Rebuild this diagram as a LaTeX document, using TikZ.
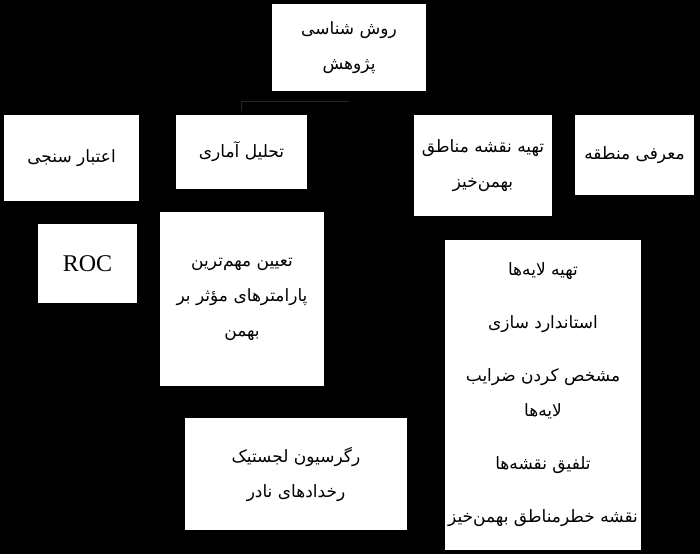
\documentclass[tikz,border=0pt]{standalone}
\usepackage{fontspec}
\setmainfont{Liberation Serif}
\newfontfamily\fa[Script=Arabic]{DejaVu Sans}
\TeXXeTstate=1
\usetikzlibrary{positioning}

\newcommand{\rtl}[1]{\beginR #1\endR}

\begin{document}
\begin{tikzpicture}[x=1pt,y=-1pt,every node/.style={fill=white,inner sep=0pt,align=center,font=\fa\fontsize{17}{35}\selectfont},
  box/.style args={#1x#2}{minimum width=#1pt,minimum height=#2pt},
  faint/.style={draw={rgb,255:red,45;green,35;blue,35},line width=0.8pt}]

\fill[black] (0,0) rectangle (700,554);

\node[box=154x87]   (root)   at (349,47.5)   {\rtl{روش شناسی}\\\rtl{پژوهش}};

\node[box=131x74]   (stat)   at (241.5,152)  {\rtl{تحلیل آماری}};
	\node[box=138x101]  (mapping) at (483,165.5) {\rtl{تهیه نقشه مناطق}\\\rtl{بهمن‌خیز}};
	\node[box=119x80]   (area)   at (634.5,155)  {\rtl{معرفی منطقه}};
	\node[box=135x86]   (valid)  at (71.5,158)   {\rtl{اعتبار سنجی}};

\node[box=99x79,font=\fontsize{24}{28}\selectfont] (roc) at (87.5,263.5) {ROC};
 \node[box=164x174]  (params) at (242,299)    {\rtl{تعیین مهم‌ترین}\\\rtl{پارامترهای مؤثر بر}\\\rtl{بهمن}};
	\node[box=222x112]  (logit)  at (296,474)    {\rtl{رگرسیون لجستیک}\\\rtl{رخدادهای نادر}};

\node[box=196x310]  (steps)  at (543,395)    {\rtl{تهیه لایه‌ها}\\[18pt]\rtl{استاندارد سازی}\\[18pt]\rtl{مشخص کردن ضرایب}\\\rtl{لایه‌ها}\\[18pt]\rtl{تلفیق نقشه‌ها}\\[18pt]\rtl{نقشه خطرمناطق بهمن‌خیز}};

	\draw[faint,shorten <=10pt,shorten >=4pt] (root.south) -- ++(0,10) -| (stat.north);

\end{tikzpicture}
\end{document}
